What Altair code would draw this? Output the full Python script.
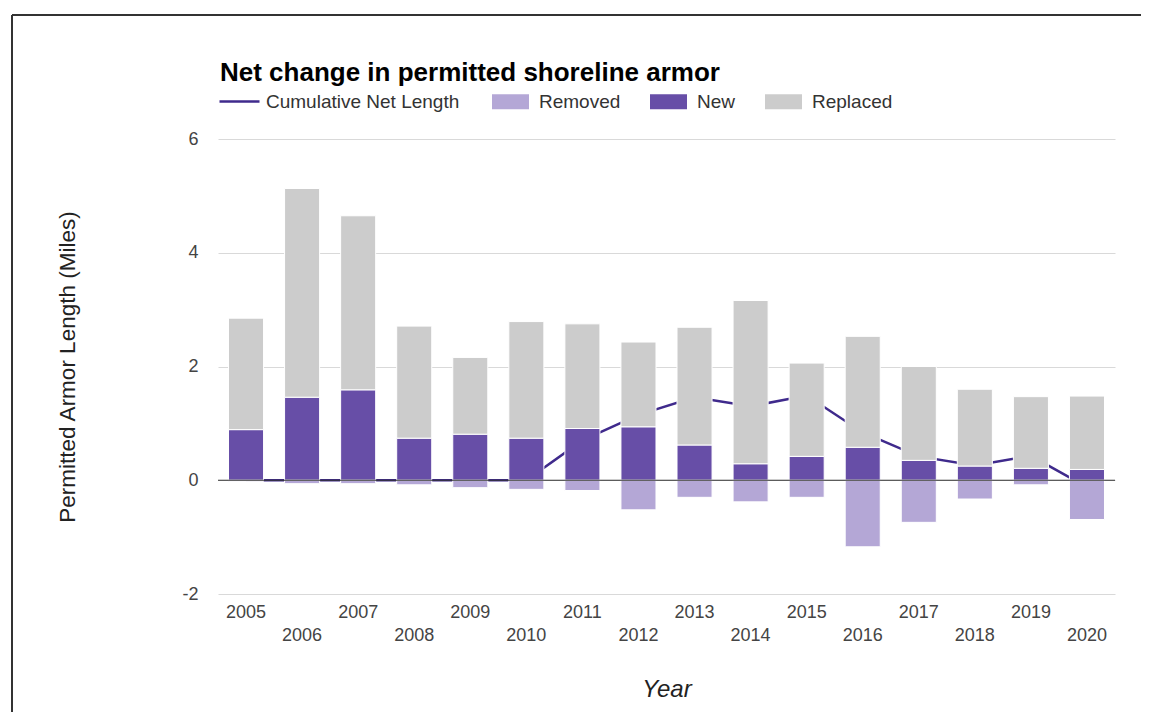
import altair as alt
import pandas as pd

years = [str(y) for y in range(2005, 2021)]
new_len = [0.89, 1.46, 1.59, 0.74, 0.81, 0.74, 0.91, 0.94, 0.62, 0.29, 0.42, 0.58, 0.35, 0.25, 0.21, 0.19]
replaced_len = [1.96, 3.67, 3.06, 1.97, 1.35, 2.05, 1.84, 1.49, 2.07, 2.87, 1.64, 1.95, 1.65, 1.35, 1.26, 1.29]
removed_len = [-0.02, -0.06, -0.06, -0.08, -0.13, -0.16, -0.18, -0.52, -0.30, -0.38, -0.30, -1.17, -0.74, -0.33, -0.08, -0.69]
cumulative_net = [0, 0, 0, 0, 0, 0, 0.70, 1.15, 1.46, 1.30, 1.49, 0.84, 0.42, 0.26, 0.43, -0.12]

series_names = ["Removed", "New", "Replaced"]
series_colors = ["#b4a7d6", "#674ea7", "#cccccc"]
line_name = "Cumulative Net Length"
line_color = "#3f2a8c"

rows = []
for i, yr in enumerate(years):
    rows.append({"Year": yr, "Series": "New", "Miles": new_len[i], "ord": 0})
    rows.append({"Year": yr, "Series": "Replaced", "Miles": replaced_len[i], "ord": 1})
    rows.append({"Year": yr, "Series": "Removed", "Miles": removed_len[i], "ord": 2})
bars_df = pd.DataFrame(rows)
line_df = pd.DataFrame({"Year": years, "Net": cumulative_net, "Series": [line_name] * len(years)})

FONT = "Liberation Sans"

x_axis = alt.Axis(
    domain=False, ticks=False, grid=False,
    labelFontSize=18, labelColor="#444", labelPadding=9, labelAngle=0,
    labelLineHeight=23,
    labelExpr="(toNumber(datum.value) - 2005) % 2 == 1 ? ['', datum.label] : datum.label",
    title="Year", titleFontSize=24, titleFontStyle="italic", titleFontWeight="normal",
    titleColor="#222", titlePadding=33,
)
y_axis = alt.Axis(
    values=[-2, 0, 2, 4, 6], labelExpr="datum.value + ''", domain=False, ticks=False,
    grid=True, gridColor="#d9d9d9",
    labelFontSize=18, labelColor="#444", labelPadding=20,
    title="Permitted Armor Length (Miles)", titleFontSize=22.5, titleFontWeight="normal",
    titleColor="#222", titlePadding=102,
)
x_scale = alt.Scale(paddingInner=0.375, paddingOuter=0.1875)
y_scale = alt.Scale(domain=[-2, 6], nice=False)

line = alt.Chart(line_df).mark_line(strokeWidth=2.5).encode(
    x=alt.X("Year:N", sort=years, scale=x_scale, axis=x_axis),
    y=alt.Y("Net:Q", scale=y_scale, axis=y_axis),
    stroke=alt.Stroke(
        "Series:N",
        scale=alt.Scale(domain=[line_name], range=[line_color]),
        legend=alt.Legend(
            orient="none", legendX=0, legendY=-59, direction="horizontal", title=None,
            symbolType="stroke", symbolSize=1600, symbolStrokeWidth=2.5,
            labelFontSize=19, labelColor="#333", labelOffset=5, labelLimit=400,
        ),
    ),
)

bars = alt.Chart(bars_df).mark_bar(stroke="white", strokeWidth=1).encode(
    x=alt.X("Year:N", sort=years),
    y=alt.Y("Miles:Q", stack="zero"),
    fill=alt.Fill(
        "Series:N",
        scale=alt.Scale(domain=series_names, range=series_colors),
        legend=alt.Legend(
            orient="none", legendX=274, legendY=-56, direction="horizontal", title=None,
            symbolType="M-1,-0.405H1V0.405H-1Z", symbolSize=1369, symbolStrokeWidth=0,
            labelFontSize=19, labelColor="#333", labelOffset=10, columnPadding=29,
            labelLimit=400,
        ),
    ),
    order=alt.Order("ord:Q"),
)

baseline = alt.Chart(pd.DataFrame({"z": [0]})).mark_rule(color="#333333", strokeWidth=1).encode(
    y=alt.Y("z:Q")
)

frame_left = alt.Chart(pd.DataFrame({"a": [0]})).mark_rule(color="#333333", strokeWidth=2).encode(
    x=alt.value(-206), y=alt.value(-124), y2=alt.value(600)
)
frame_top = alt.Chart(pd.DataFrame({"a": [0]})).mark_rule(color="#333333", strokeWidth=2).encode(
    x=alt.value(-206), x2=alt.value(940), y=alt.value(-124)
)

chart = alt.layer(line, bars, baseline, frame_left, frame_top).properties(
    width=897,
    height=455,
    autosize=alt.AutoSizeParams(type="none"),
    padding={"left": 210, "top": 131, "right": 26, "bottom": 118},
    title=alt.TitleParams(
        "Net change in permitted shoreline armor", anchor="start", frame="group",
        fontSize=26, fontWeight="bold", color="#000000", font=FONT,
        baseline="alphabetic", offset=-93, dx=2,
    ),
).resolve_scale(x="shared", y="shared").configure(
    font=FONT
).configure_view(stroke=None)

chart.save("out.html", embed_options={"renderer": "svg", "actions": False})
